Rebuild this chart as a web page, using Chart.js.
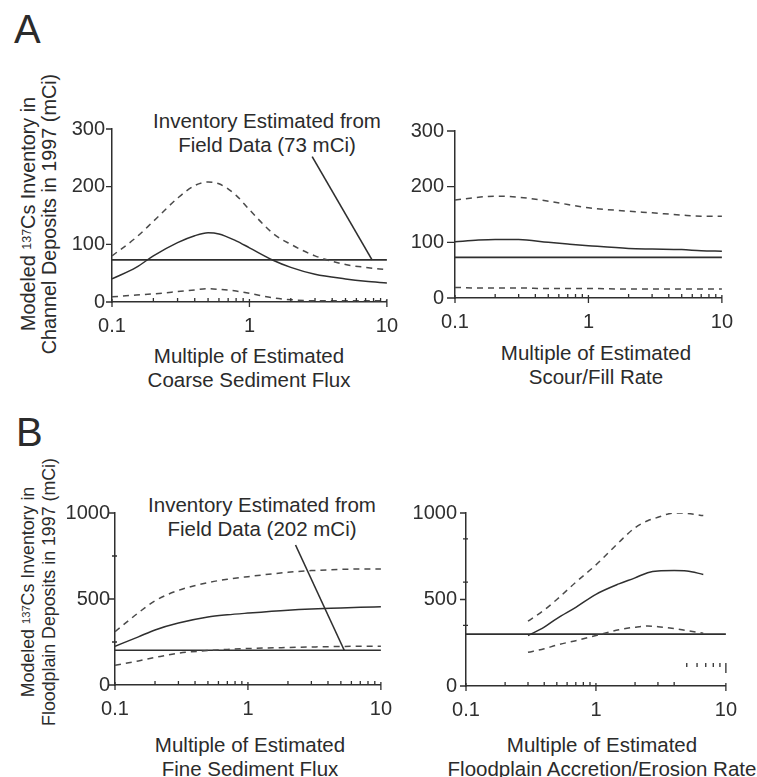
<!DOCTYPE html>
<html>
<head>
<meta charset="utf-8">
<script src="https://cdn.jsdelivr.net/npm/chart.js@4/dist/chart.umd.min.js"></script>
<style>
  body { margin: 0; background: #fff; }
  #page { position: relative; width: 757px; height: 777px; overflow: hidden; font-family: "Liberation Sans", Arial, sans-serif; color: #2b2b2b; }
  canvas { position: absolute; }
  .txt { position: absolute; white-space: nowrap; text-align: center; font-size: 20.5px; line-height: 23.5px; transform: translateX(-50%); }
  .ytitle { position: absolute; white-space: nowrap; text-align: center; font-size: 19.8px; line-height: 21px; transform: translate(-50%, -50%) rotate(-90deg); }
  .ytitle.small { font-size: 17.8px; }
  .ytitle sup { font-size: 0.63em; vertical-align: 0.35em; line-height: 0; }
  .letter { position: absolute; font-size: 40px; line-height: 1; }
</style>
</head>
<body>
<div id="page">
  <div class="letter" style="left:14px; top:9px;">A</div>
  <div class="letter" style="left:16px; top:412px;">B</div>

  <div class="ytitle" style="left:39px; top:214px;">Modeled <sup>137</sup>Cs Inventory in<br>Channel Deposits in 1997 (mCi)</div>
  <div class="ytitle small" style="left:39px; top:592px;">Modeled <sup>137</sup>Cs Inventory in<br>Floodplain Deposits in 1997 (mCi)</div>

  <div class="txt" style="left:267px; top:109px;">Inventory Estimated from<br>Field Data (73 mCi)</div>
  <div class="txt" style="left:262px; top:493px;">Inventory Estimated from<br>Field Data (202 mCi)</div>

  <div class="txt" style="left:249px; top:344px;">Multiple of Estimated<br>Coarse Sediment Flux</div>
  <div class="txt" style="left:596px; top:341px;">Multiple of Estimated<br>Scour/Fill Rate</div>
  <div class="txt" style="left:250px; top:733px;">Multiple of Estimated<br>Fine Sediment Flux</div>
  <div class="txt" style="left:602px; top:733px;">Multiple of Estimated<br>Floodplain Accretion/Erosion Rate</div>

  <canvas id="aLeft"></canvas>
  <canvas id="aRight"></canvas>
  <canvas id="bLeft"></canvas>
  <canvas id="bRight"></canvas>
</div>
<script>
// shared axis ticks
const xMajor = [0.1, 1, 10];
const xMinor = [0.2, 0.3, 0.4, 0.5, 0.6, 0.7, 0.8, 0.9, 2, 3, 4, 5, 6, 7, 8, 9];
const yMajorA = [0, 100, 200, 300];
const yMajorB = [0, 500, 1000];

// A, left: coarse sediment flux
const aLeftX = [0.1, 0.15, 0.2, 0.3, 0.4, 0.5, 0.6, 0.8, 1, 1.5, 2, 3, 5, 7, 10];
const aLeftMid = [40, 60, 80, 103, 115, 120, 118, 106, 94, 72, 60, 48, 40, 36, 33];
const aLeftHigh = [80, 112, 140, 180, 202, 208, 205, 185, 160, 118, 100, 80, 65, 60, 56];
const aLeftLow = [9, 12, 14, 18, 21, 23, 22, 19, 15, 7, 4, 2, 2, 2, 2];
const aLeftField = 73;
const aLeftPointerX = [2.86, 7.8];
const aLeftPointerY = [252, 73];

// A, right: scour/fill rate
const aRightX = [0.1, 0.15, 0.2, 0.3, 0.5, 0.7, 1, 2, 3, 5, 7, 10];
const aRightMid = [101, 104, 105, 105, 100, 97, 94, 89, 88, 87, 85, 84];
const aRightHigh = [176, 181, 183, 181, 174, 168, 162, 156, 153, 149, 147, 147];
const aRightLow = [19, 18, 18, 18, 17, 17, 17, 16, 16, 16, 16, 16];
const aRightField = 73;

// B, left: fine sediment flux
const bLeftX = [0.1, 0.15, 0.2, 0.3, 0.5, 0.7, 1, 2, 3, 5, 7, 10];
const bLeftMid = [225, 280, 320, 360, 395, 408, 418, 435, 442, 448, 452, 455];
const bLeftHigh = [310, 420, 490, 550, 595, 615, 630, 655, 665, 672, 675, 675];
const bLeftLow = [115, 140, 160, 185, 200, 207, 212, 218, 221, 224, 225, 226];
const bLeftField = 202;
const bLeftPointerX = [2.28, 5.3];
const bLeftPointerY = [814, 202];
const bLeftMinorY = [250, 750];

// B, right: floodplain accretion/erosion rate
const bRightX = [0.3, 0.4, 0.5, 0.7, 1, 1.5, 2, 2.5, 3, 4, 5, 6.7];
const bRightMid = [292, 340, 390, 455, 530, 590, 625, 655, 665, 667, 665, 645];
const bRightHigh = [375, 440, 500, 600, 700, 830, 915, 955, 975, 1000, 998, 985];
const bRightLow = [195, 215, 237, 262, 292, 325, 340, 347, 343, 332, 320, 305];
const bRightField = 300;
const bRightMinorY = [350, 600, 850];
const bRightXMinor = [0.2, 0.3, 0.4, 0.5, 0.6, 0.7, 0.8, 0.9, 2, 3, 4];
// minor ticks that sit above the axis in the original print
const bRightStrayX = [5, 6, 7, 8, 9, 10];
const bRightStrayAt = 121;

const INK = '#2f2f2f';
const DASH = '#4a4a4a';

const pts = (xs, ys) => xs.map((x, i) => ({ x: x, y: ys[i] }));

const tickMarks = {
  id: 'tickMarks',
  afterDraw(chart, args, opts) {
    const { ctx, scales: { x, y } } = chart;
    const bottom = y.getPixelForValue(0);
    const left = x.getPixelForValue(0.1);
    ctx.save();
    ctx.strokeStyle = INK;
    ctx.lineWidth = 1.3;
    ctx.beginPath();
    xMajor.forEach(v => {
      const px = x.getPixelForValue(v);
      ctx.moveTo(px, bottom - 3);
      ctx.lineTo(px, bottom + 5);
    });
    (opts.xMinor || xMinor).forEach(v => {
      const px = x.getPixelForValue(v);
      ctx.moveTo(px, bottom);
      ctx.lineTo(px, bottom - 4);
    });
    opts.yMajor.forEach(v => {
      const py = y.getPixelForValue(v);
      ctx.moveTo(left - opts.yTick, py);
      ctx.lineTo(left, py);
    });
    (opts.yMinor || []).forEach(v => {
      const py = y.getPixelForValue(v);
      ctx.moveTo(left - 3, py);
      ctx.lineTo(left + 2, py);
    });
    if (opts.strayX) {
      const py = y.getPixelForValue(opts.strayAt);
      opts.strayX.forEach((v, i) => {
        const px = x.getPixelForValue(v);
        const last = i === opts.strayX.length - 1;
        ctx.moveTo(px, py - 2);
        ctx.lineTo(px, py + (last ? 8 : 2));
      });
    }
    ctx.stroke();
    ctx.restore();
  }
};

function makePanel(id, area, yMax, yMajor, labelPad, datasets, marks) {
  const yw = 64, padR = 22, padT = 22, xh = 46;
  const cv = document.getElementById(id);
  cv.width = area.R - area.L + yw + padR;
  cv.height = area.B - area.T + padT + xh;
  cv.style.left = (area.L - yw) + 'px';
  cv.style.top = (area.T - padT) + 'px';
  const font = { family: '"Liberation Sans", Arial, sans-serif', size: 20 };
  new Chart(cv, {
    type: 'line',
    data: { datasets: datasets },
    options: {
      responsive: false,
      animation: false,
      devicePixelRatio: 1,
      layout: { padding: { left: 0, right: padR, top: padT, bottom: 0 } },
      plugins: { legend: { display: false }, tooltip: { enabled: false }, tickMarks: marks },
      elements: { point: { radius: 0 }, line: { cubicInterpolationMode: 'monotone' } },
      scales: {
        x: {
          type: 'logarithmic',
          min: 0.1, max: 10,
          grid: { display: false, drawTicks: false },
          border: { display: true, color: INK, width: 1.5 },
          afterBuildTicks: s => { s.ticks = xMajor.map(v => ({ value: v, major: true })); },
          afterFit: s => { s.height = xh; },
          ticks: { color: INK, font: font, padding: 12, maxRotation: 0, autoSkip: false, callback: v => String(v) }
        },
        y: {
          min: 0, max: yMax,
          grid: { display: false, drawTicks: false },
          border: { display: true, color: INK, width: 1.5 },
          afterBuildTicks: s => { s.ticks = yMajor.map(v => ({ value: v })); },
          afterFit: s => { s.width = yw; },
          ticks: { color: INK, font: font, padding: labelPad, callback: v => String(v) }
        }
      }
    },
    plugins: [tickMarks]
  });
}

const solid = (data, w) => ({ data: data, borderColor: INK, borderWidth: w || 1.5, fill: false });
const dashed = data => ({ data: data, borderColor: DASH, borderWidth: 1.5, borderDash: [6, 5], fill: false });
const straight = (data) => ({ data: data, borderColor: INK, borderWidth: 1.6, fill: false, cubicInterpolationMode: 'default', tension: 0 });

makePanel('aLeft', { L: 112, R: 388, T: 129, B: 302 }, 300, yMajorA, 7, [
  dashed(pts(aLeftX, aLeftHigh)),
  solid(pts(aLeftX, aLeftMid)),
  dashed(pts(aLeftX, aLeftLow)),
  straight(pts([0.1, 10], [aLeftField, aLeftField])),
  straight(pts(aLeftPointerX, aLeftPointerY))
], { yMajor: yMajorA, yTick: 6 });

makePanel('aRight', { L: 455, R: 723, T: 130, B: 298 }, 300, yMajorA, 11, [
  dashed(pts(aRightX, aRightHigh)),
  solid(pts(aRightX, aRightMid)),
  dashed(pts(aRightX, aRightLow)),
  straight(pts([0.1, 10], [aRightField, aRightField]))
], { yMajor: yMajorA, yTick: 8 });

makePanel('bLeft', { L: 115, R: 382, T: 513, B: 685 }, 1000, yMajorB, 5, [
  dashed(pts(bLeftX, bLeftHigh)),
  solid(pts(bLeftX, bLeftMid)),
  dashed(pts(bLeftX, bLeftLow)),
  straight(pts([0.1, 10], [bLeftField, bLeftField])),
  straight(pts(bLeftPointerX, bLeftPointerY))
], { yMajor: yMajorB, yTick: 6, yMinor: bLeftMinorY });

makePanel('bRight', { L: 466, R: 727, T: 513, B: 686 }, 1000, yMajorB, 9, [
  dashed(pts(bRightX, bRightHigh)),
  solid(pts(bRightX, bRightMid)),
  dashed(pts(bRightX, bRightLow)),
  straight(pts([0.1, 10], [bRightField, bRightField]))
], { yMajor: yMajorB, yTick: 6, yMinor: bRightMinorY, xMinor: bRightXMinor, strayX: bRightStrayX, strayAt: bRightStrayAt });
</script>
</body>
</html>
